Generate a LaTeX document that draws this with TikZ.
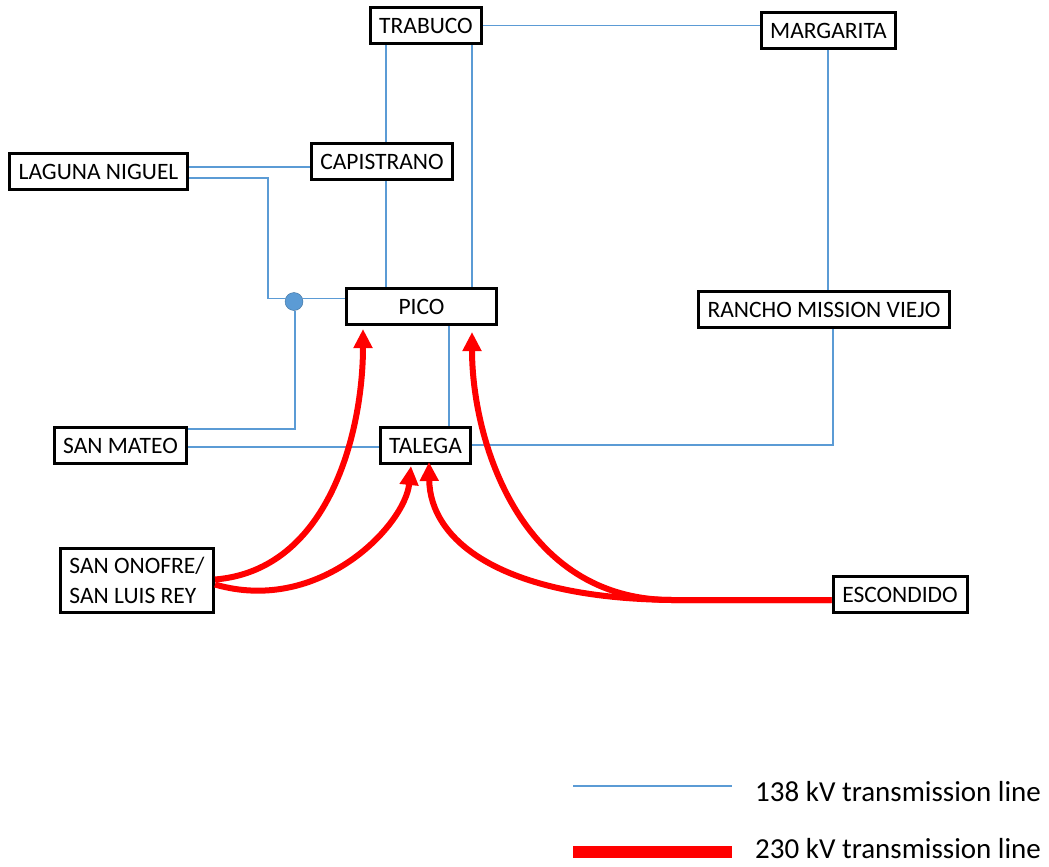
\documentclass[tikz,border=0pt]{standalone}
\usepackage{fontspec}
\setmainfont{Carlito}
\usetikzlibrary{arrows.meta}
\definecolor{linkblue}{RGB}{91,155,213}
\definecolor{dotedge}{RGB}{65,113,156}
\definecolor{hvred}{RGB}{255,0,0}
\begin{document}
\begin{tikzpicture}[x=1pt,y=-1pt,
  station/.style={draw=black,line width=3pt,fill=white,inner sep=0pt,
    minimum height=36pt,font=\fontsize{23.5}{27}\selectfont},
  lv/.style={draw=linkblue,line width=1.3pt},
  hv/.style={draw=hvred,line width=6pt,-{Triangle[length=19pt,width=18pt]}},
  legendtext/.style={anchor=base west,inner sep=0pt,font=\fontsize{29}{34}\selectfont}]
\useasboundingbox (0,0) rectangle (1049,867);
% stations
\node[station,minimum width=111pt] (trab) at (426,25.5) {TRABUCO};
\node[station,minimum width=134pt] (marg) at (828.5,30.5) {MARGARITA};
\node[station,minimum width=178pt] (lag) at (98.5,171.5) {LAGUNA NIGUEL};
\node[station,minimum width=141pt] (cap) at (382,161.5) {CAPISTRANO};
\node[station,minimum width=150pt] (pico) at (421.5,306.5) {PICO};
\node[station,minimum width=251pt] (rmv) at (824,309.5) {RANCHO MISSION VIEJO};
\node[station,minimum width=132pt] (mat) at (120.5,445.5) {SAN MATEO};
\node[station,minimum width=90pt] (tal) at (425.5,445.5) {TALEGA};
\node[station,minimum width=153pt,minimum height=64pt,align=left,
  font=\fontsize{23.5}{30}\selectfont] (ono) at (137,580.5) {SAN ONOFRE/\\SAN LUIS REY};
\node[station,minimum width=134pt] (esc) at (900,594.5) {ESCONDIDO};
% junction
\node[circle,fill=linkblue,draw=dotedge,line width=0.4pt,minimum size=18pt,inner sep=0pt] (dot) at (294,301.5) {};
% helper coordinates
\coordinate (xa) at (386,0);
\coordinate (xb) at (472,0);
\coordinate (xc) at (268,0);
\coordinate (xd) at (295,0);
\coordinate (xe) at (449,0);
\coordinate (xf) at (833,0);
\coordinate (xg) at (828,0);
\coordinate (ya) at (0,167);
\coordinate (yb) at (0,178);
\coordinate (yc) at (0,298.5);
\coordinate (yd) at (0,429);
\coordinate (ye) at (0,447);
\coordinate (yf) at (0,445);
% 138 kV lines
\draw[lv] (trab.east) -- (trab.east -| marg.west);
\draw[lv] (xa |- trab.south) -- (xa |- cap.north);
\draw[lv] (xa |- cap.south) -- (xa |- pico.north);
\draw[lv] (xb |- trab.south) -- (xb |- pico.north);
\draw[lv] (lag.east |- ya) -- (cap.west |- ya);
\draw[lv] (lag.east |- yb) -- (xc |- yb) -- (xc |- yc) -- (dot.west |- yc);
\draw[lv] (dot.east |- yc) -- (pico.west |- yc);
\draw[lv] (xd |- dot.south) -- (xd |- yd) -- (mat.east |- yd);
\draw[lv] (mat.east |- ye) -- (tal.west |- ye);
\draw[lv] (xe |- pico.south) -- (xe |- tal.north);
\draw[lv] (tal.east |- yf) -- (xf |- yf) -- (xf |- rmv.south);
\draw[lv] (xg |- marg.south) -- (xg |- rmv.north);
% 230 kV lines
\draw[hv] (ono.east) ++(0,-1) .. controls (330,570) and (363,430) .. (363,329);
\draw[hv] (ono.east) ++(0,4) .. controls (320,615) and (405,525) .. (411,466);
\coordinate (split) at (672,600);
\draw[hv] (esc.west |- split) -- (split) .. controls (520,600) and (472,440) .. (472,332);
\draw[hv] (esc.west |- split) -- (split) .. controls (500,598) and (430,540) .. (429,462);
% legend
\coordinate (lbA) at (573,786);
\coordinate (lbB) at (732,786);
\coordinate (lrA) at (573,852);
\coordinate (lrB) at (732,852);
\draw[lv] (lbA) -- (lbB);
\draw[draw=hvred,line width=12pt] (lrA) -- (lrB);
\node[legendtext] (leg1) at (755,801) {138 kV transmission line};
\node[legendtext] (leg2) at (755,858) {230 kV transmission line};
\end{tikzpicture}
\end{document}
